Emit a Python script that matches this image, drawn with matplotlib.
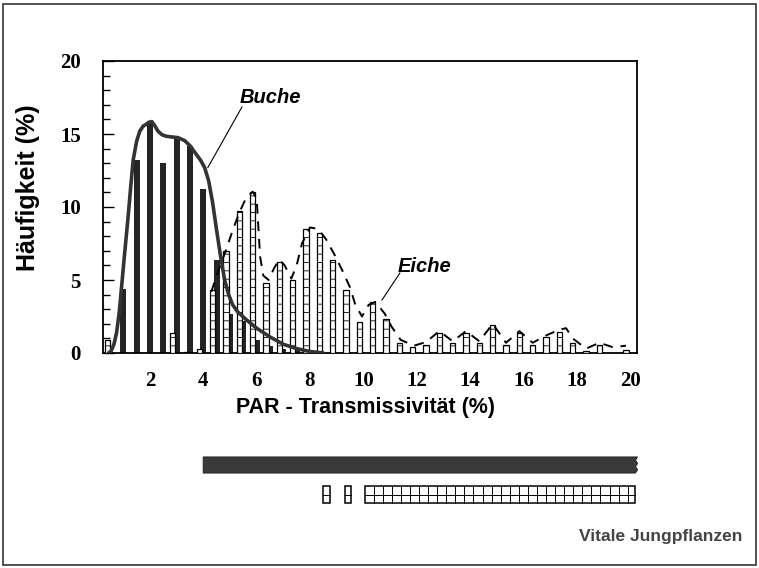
import matplotlib.pyplot as plt
import matplotlib.transforms as mtransforms
from matplotlib.patches import Rectangle, Polygon
import numpy as np

# bar positions (0.5 classes) and frequencies
buche_x = [1.0, 1.5, 2.0, 2.5, 3.0, 3.5, 4.0, 4.5, 5.0, 5.5, 6.0, 6.5, 7.0, 7.5, 8.0]
buche_y = [4.4, 13.2, 15.8, 13.0, 14.8, 14.2, 11.2, 6.4, 2.7, 2.2, 0.9, 0.5, 0.3, 0.2, 0.1]

eiche_x = [0.4, 2.85, 3.35, 3.85, 4.35, 4.85, 5.35, 5.85, 6.35, 6.85, 7.35, 7.85, 8.35,
           8.85, 9.35, 9.85, 10.35, 10.85, 11.35, 11.85, 12.35, 12.85, 13.35, 13.85,
           14.35, 14.85, 15.35, 15.85, 16.35, 16.85, 17.35, 17.85, 18.35, 18.85, 19.85]
eiche_y = [0.9, 1.4, 0.1, 0.3, 4.3, 7.0, 9.7, 11.0, 4.8, 6.2, 5.0, 8.5, 8.2,
           6.4, 4.3, 2.1, 3.5, 2.3, 0.7, 0.4, 0.55, 1.4, 0.7, 1.4,
           0.7, 1.9, 0.55, 1.4, 0.55, 1.1, 1.45, 0.7, 0.15, 0.55, 0.2]

# smoothed curves
buche_cx = [0.45, 0.55, 0.65, 0.75, 0.85, 0.95, 1.05, 1.18, 1.28, 1.37, 1.5, 1.62, 1.75,
            1.85, 1.95, 2.07, 2.17, 2.3, 2.45, 2.6, 2.8, 3.05, 3.3, 3.5, 3.7, 3.9,
            4.05, 4.2, 4.35, 4.5, 4.65, 4.8, 4.95, 5.1, 5.3, 5.6, 6.0, 6.5, 7.0,
            7.5, 8.0, 8.5]
buche_cy = [0.0, 0.15, 0.6, 1.4, 2.8, 4.8, 6.8, 9.3, 11.4, 13.2, 14.5, 15.2, 15.55,
            15.65, 15.8, 15.85, 15.6, 15.2, 14.95, 14.85, 14.8, 14.75, 14.55, 14.2, 13.7, 13.2,
            12.7, 11.8, 10.3, 8.4, 6.6, 5.0, 4.0, 3.3, 2.8, 2.3, 1.7, 1.1, 0.6,
            0.3, 0.1, 0.0]

eiche_cx = [4.3, 4.6, 4.9, 5.1, 5.37, 5.6, 5.85, 6.0, 6.13, 6.25, 6.45, 6.65, 6.85,
            7.05, 7.3, 7.5, 7.7, 8.0, 8.3, 8.6, 8.9, 9.2, 9.5, 9.7, 9.95, 10.2,
            10.45, 10.8, 11.06, 11.4, 11.9, 12.35, 12.85, 13.35, 13.85, 14.35, 14.85,
            15.35, 15.85, 16.35, 16.85, 17.35, 17.6, 17.85, 18.35, 18.85, 19.35, 19.85]
eiche_cy = [4.2, 5.8, 7.3, 8.4, 9.7, 10.6, 11.05, 10.6, 6.6, 5.3, 5.0, 5.8, 6.4,
            6.0, 5.1, 6.0, 7.5, 8.6, 8.5, 7.8, 6.8, 5.7, 4.5, 3.3, 2.5, 3.3,
            3.5, 2.7, 1.8, 0.9, 0.5, 0.75, 1.5, 0.8, 1.5, 0.8, 2.0,
            0.7, 1.5, 0.7, 1.2, 1.6, 1.7, 1.0, 0.3, 0.7, 0.4, 0.5]

# PAR ranges of vital young plants
buche_range = (4.0, 20.2)
eiche_ranges = [(8.5, 8.75), (9.3, 9.55), (10.05, 20.2)]

xticks = [2, 4, 6, 8, 10, 12, 14, 16, 18, 20]
yticks = [0, 5, 10, 15, 20]

W, H = 759, 568
fig = plt.figure(figsize=(W / 100, H / 100), dpi=100)
ax = fig.add_axes([103 / W, 1 - 353 / H, (637 - 103) / W, (353 - 61) / H])

dark = "#242424"
plt.rcParams['hatch.linewidth'] = 0.6

ax.bar(buche_x, buche_y, width=0.23, color=dark, zorder=2)
ax.bar(eiche_x, eiche_y, width=0.2, facecolor="white", edgecolor="black",
       linewidth=0.9, hatch="--", zorder=3)
ax.plot(buche_cx, buche_cy, color="#333333", lw=2.6, zorder=4,
        solid_capstyle="round", solid_joinstyle="round")
ax.plot(eiche_cx, eiche_cy, color="black", lw=1.4, dashes=(5, 4), zorder=4)

# labels with leader lines
ax.plot([5.45, 4.17], [16.85, 12.7], color="black", lw=0.8, zorder=5)
ax.text(5.38, 17.5, "Buche", fontsize=14.5, fontweight="bold", style="italic",
        family="Liberation Sans", va="center", ha="left")
ax.plot([11.37, 10.7], [5.48, 3.63], color="black", lw=0.8, zorder=5)
ax.text(11.3, 5.95, "Eiche", fontsize=14.5, fontweight="bold", style="italic",
        family="Liberation Sans", va="center", ha="left")

ax.set_xlim(0.24, 20.26)
ax.set_ylim(0, 20)
ax.set_xticks(xticks)
ax.set_yticks(yticks)
ax.set_yticks(np.arange(0, 21, 1), minor=True)
ax.tick_params(axis="y", which="major", direction="in", length=8, width=1, pad=16)
ax.tick_params(axis="y", which="minor", direction="in", length=5, width=1)
ax.tick_params(axis="x", which="major", direction="in", length=0, pad=13)
for lab in ax.get_xticklabels() + ax.get_yticklabels():
    lab.set_fontfamily("Liberation Serif")
    lab.set_fontweight("bold")
    lab.set_fontsize(15)
for s in ax.spines.values():
    s.set_linewidth(1.3)

def fy(p):
    return 1 - p / H

fig.text(365 / W, fy(408), "PAR - Transmissivität (%)", fontsize=15.5, fontweight="bold",
         family="Liberation Sans", ha="center", va="center")
fig.text(28 / W, fy(188), "Häufigkeit (%)", fontsize=18, fontweight="bold",
         family="Liberation Sans", ha="center", va="center", rotation=90)

# range bars below the chart: x in data units, y in figure pixels
trans = mtransforms.blended_transform_factory(ax.transData, fig.transFigure)

x0, x1 = buche_range
zig = np.linspace(fy(457), fy(473), 6)
pts = [(x0, fy(457)), (x0, fy(473))]
for i, yv in enumerate(zig[::-1]):
    pts.append((x1 + (0.08 if i % 2 else 0), yv))
fig.patches.append(Polygon(pts, closed=True, transform=trans, facecolor="#3a3a3a",
                           edgecolor="#2a2a2a", lw=0.8))

for a, b in eiche_ranges:
    fig.patches.append(Rectangle((a, fy(503)), b - a, fy(486) - fy(503), transform=trans,
                                 facecolor="white", edgecolor="black", lw=1.1))
    fig.lines.append(plt.Line2D([a, b], [fy(494.5), fy(494.5)], transform=trans,
                                color="black", lw=0.7))
    if b - a > 1:
        for xv in np.arange(a + 0.34, b, 0.34):
            fig.lines.append(plt.Line2D([xv, xv], [fy(486), fy(503)], transform=trans,
                                        color="black", lw=0.7))

fig.text(742 / W, fy(536), "Vitale Jungpflanzen", fontsize=12.5, fontweight="bold",
         family="Liberation Sans", color="#444444", ha="right", va="center")

# outer frame
fig.patches.append(Rectangle((3 / W, fy(565)), 753 / W, (565 - 4) / H,
                             transform=fig.transFigure, fill=False,
                             edgecolor="#333333", lw=1.2))

fig.savefig("out.png", dpi=100)
